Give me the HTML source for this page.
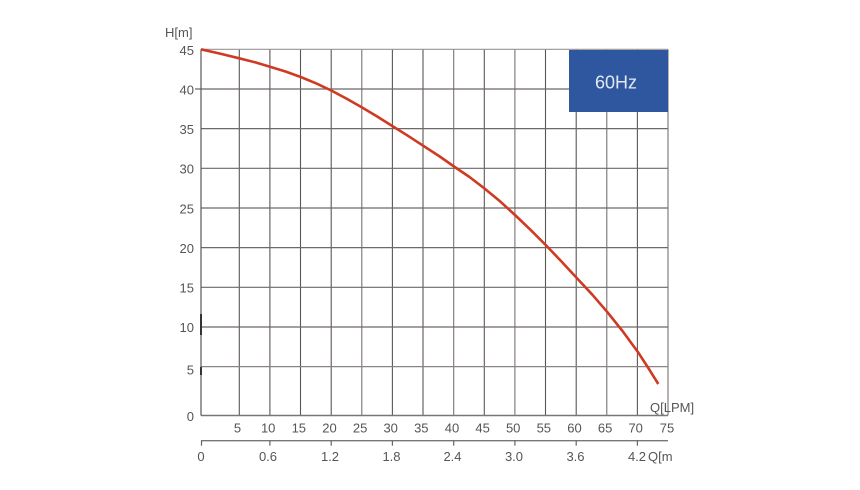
<!DOCTYPE html>
<html><head><meta charset="utf-8"><style>
html,body{margin:0;padding:0;background:#fff;}
svg{display:block;}
text{font-family:"Liberation Sans",sans-serif;fill:#555;font-size:13px;}
</style></head><body>
<svg width="860" height="490" viewBox="0 0 860 490" xmlns="http://www.w3.org/2000/svg">
<g stroke="#5d5656" stroke-width="1.1" fill="none">
<line x1="239.3" y1="49.3" x2="239.3" y2="415.5"/>
<line x1="269.9" y1="49.3" x2="269.9" y2="415.5"/>
<line x1="300.5" y1="49.3" x2="300.5" y2="415.5"/>
<line x1="331.2" y1="49.3" x2="331.2" y2="415.5"/>
<line x1="361.8" y1="49.3" x2="361.8" y2="415.5" stroke="#7a7474"/>
<line x1="392.4" y1="49.3" x2="392.4" y2="415.5"/>
<line x1="423" y1="49.3" x2="423" y2="415.5"/>
<line x1="453.7" y1="49.3" x2="453.7" y2="415.5" stroke="#7a7474"/>
<line x1="484.3" y1="49.3" x2="484.3" y2="415.5"/>
<line x1="514.9" y1="49.3" x2="514.9" y2="415.5" stroke="#7a7474"/>
<line x1="545.5" y1="49.3" x2="545.5" y2="415.5"/>
<line x1="576.2" y1="49.3" x2="576.2" y2="415.5"/>
<line x1="606.8" y1="49.3" x2="606.8" y2="415.5" stroke="#7a7474"/>
<line x1="637.4" y1="49.3" x2="637.4" y2="415.5"/>
<line x1="668" y1="49.3" x2="668" y2="415.5" stroke="#7a7474"/>
</g>
<g stroke="#6e6868" stroke-width="1.2" fill="none">
<line x1="201" y1="49.3" x2="668" y2="49.3" stroke="#9a9494"/>
<line x1="195" y1="89" x2="668" y2="89"/>
<line x1="201" y1="128.6" x2="668" y2="128.6"/>
<line x1="201" y1="168.3" x2="668" y2="168.3"/>
<line x1="201" y1="208" x2="668" y2="208"/>
<line x1="201" y1="247.6" x2="668" y2="247.6"/>
<line x1="201" y1="287.3" x2="668" y2="287.3"/>
<line x1="201" y1="327" x2="668" y2="327"/>
<line x1="201" y1="366.6" x2="668" y2="366.6" stroke="#8a8484"/>
<line x1="201" y1="415.5" x2="668" y2="415.5" stroke="#7a7676" stroke-width="1.4"/>
</g>
<line x1="201" y1="49.3" x2="201" y2="415.5" stroke="#5d5656" stroke-width="1.2"/>
<rect x="200" y="314" width="2" height="21" fill="#333"/>
<rect x="200" y="367" width="2" height="8" fill="#333"/>
<rect x="569" y="50" width="99" height="62" fill="#2f57a0"/>
<text x="616" y="88.5" text-anchor="middle" style="font-size:18px;fill:#e4e8f2">60Hz</text>
<polyline fill="none" stroke="#cf3a22" stroke-width="2.6" stroke-linejoin="round" stroke-linecap="butt"
points="201,49.3 220,53.6 239.3,58.3 255,62.3 270,66.7 285.5,71.5 300.7,77 316,83.3 331.3,90.5 346.5,98.6 361.7,107.3 377,116.4 392.3,126 408,135.8 423.3,145.8 439,156 454,166.5 469.5,177 484.5,188.5 500,201.3 515,215 530.5,229.8 545.7,245 561,261 576.3,277.5 592,294.3 607,311.7 622.5,331 637.7,351.7 648,367.5 658.3,384"/>
<text x="165" y="37">H[m]</text>
<g text-anchor="end">
<text x="194" y="55">45</text>
<text x="194" y="94.5">40</text>
<text x="194" y="134">35</text>
<text x="194" y="173.5">30</text>
<text x="194" y="213.5">25</text>
<text x="194" y="253">20</text>
<text x="194" y="292.5">15</text>
<text x="194" y="332">10</text>
<text x="194" y="374.5">5</text>
<text x="194" y="421">0</text>
</g>
<g text-anchor="middle">
<text x="237.5" y="432.5">5</text>
<text x="268.2" y="432.5">10</text>
<text x="298.8" y="432.5">15</text>
<text x="329.5" y="432.5">20</text>
<text x="360.1" y="432.5">25</text>
<text x="390.7" y="432.5">30</text>
<text x="421.3" y="432.5">35</text>
<text x="452" y="432.5">40</text>
<text x="482.6" y="432.5">45</text>
<text x="513.2" y="432.5">50</text>
<text x="543.8" y="432.5">55</text>
<text x="574.5" y="432.5">60</text>
<text x="605.1" y="432.5">65</text>
<text x="635.7" y="432.5">70</text>
<text x="667" y="432.5">75</text>
</g>
<text x="650" y="412">Q[LPM]</text>
<line x1="201" y1="440.7" x2="668" y2="440.7" stroke="#777" stroke-width="1.3"/>
<g stroke="#666" stroke-width="1.2">
<line x1="201.5" y1="440.7" x2="201.5" y2="445.7"/>
<line x1="269.9" y1="440.7" x2="269.9" y2="445.7"/>
<line x1="331.2" y1="440.7" x2="331.2" y2="445.7"/>
<line x1="392.4" y1="440.7" x2="392.4" y2="445.7"/>
<line x1="453.7" y1="440.7" x2="453.7" y2="445.7"/>
<line x1="514.9" y1="440.7" x2="514.9" y2="445.7"/>
<line x1="576.2" y1="440.7" x2="576.2" y2="445.7"/>
<line x1="637.4" y1="440.7" x2="637.4" y2="445.7"/>
</g>
<g text-anchor="middle">
<text x="201" y="461">0</text>
<text x="268" y="461">0.6</text>
<text x="330" y="461">1.2</text>
<text x="391.5" y="461">1.8</text>
<text x="452.5" y="461">2.4</text>
<text x="514" y="461">3.0</text>
<text x="575.5" y="461">3.6</text>
<text x="637" y="461">4.2</text>
</g>
<text x="648" y="461">Q[m</text>
</svg>
</body></html>
